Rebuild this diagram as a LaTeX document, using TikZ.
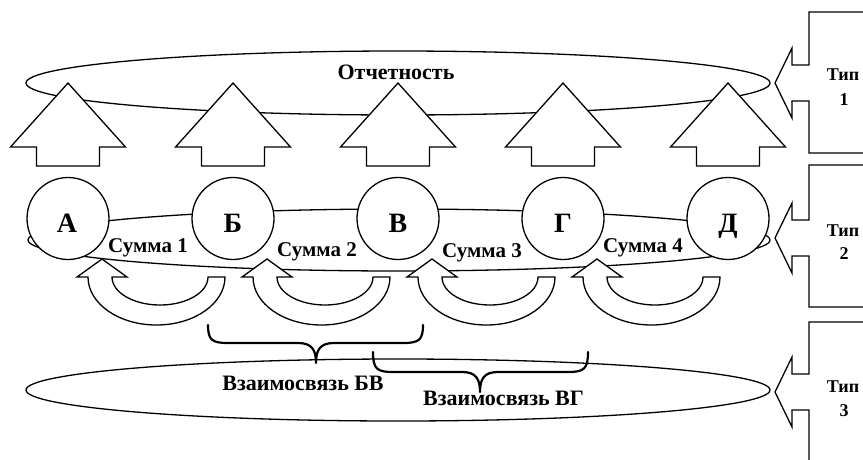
\documentclass[tikz,border=0pt]{standalone}
\usepackage{fontspec}
\setmainfont{Liberation Serif}
\usetikzlibrary{shapes.geometric}
\begin{document}
\begin{tikzpicture}[x=1pt,y=-1pt,line width=1.3pt,line join=miter,
  oval/.style={draw,ellipse,inner sep=0pt},
  uparrow/.style={draw,fill=white},
  ball/.style={circle,draw,fill=white,minimum size=82pt,inner sep=0pt},
  letter/.style={font=\bfseries\fontsize{28}{30}\selectfont,anchor=base},
  lbl/.style={font=\bfseries\fontsize{22}{24}\selectfont,anchor=base},
  sumlbl/.style={font=\bfseries\fontsize{21}{24}\selectfont,anchor=base},
  typ/.style={font=\bfseries\fontsize{18}{20}\selectfont,anchor=base},
  bracepath/.style={draw,line width=2.2pt,line cap=round,line join=round},
  turn/.style={draw,fill=white},
  callout/.style={draw,line join=miter}]
\useasboundingbox (0,0) rectangle (863,459);
\fill[white] (0,0) rectangle (863,459);
% ellipses
\node[oval,minimum width=744pt,minimum height=64pt] (rep) at (398,83) {};
\node[oval,minimum width=742pt,minimum height=62pt] (mid) at (399,240) {};
\node[oval,minimum width=744pt,minimum height=62pt] (low) at (398,390) {};
% up arrows
\foreach \c in {68,233,398,563,728}
  \draw[uparrow] (\c,83) -- (\c+57.5,147) -- (\c+31.5,147) -- (\c+31.5,166)
     -- (\c-31.5,166) -- (\c-31.5,147) -- (\c-57.5,147) -- cycle;
\node[lbl] (otch) at (396,79) {Отчетность};
% circles
\node[ball] (A) at (68,218.5) {};
\node[ball] (B) at (233,218.5) {};
\node[ball] (V) at (398,218.5) {};
\node[ball] (G) at (563,218.5) {};
\node[ball] (D) at (728,218.5) {};
\node[letter] (lA) at (67,232) {А};
\node[letter] (lB) at (233,232) {Б};
\node[letter] (lV) at (398,232) {В};
\node[letter] (lG) at (563,232) {Г};
\node[letter] (lD) at (728,232) {Д};
% U-turn arrows
\foreach \d in {0,165,330,495}
  \draw[turn] (102+\d,259) -- (127+\d,277) -- (112+\d,277)
     arc[start angle=180,end angle=0,x radius=48,y radius=28]
     -- (225+\d,277)
     arc[start angle=0,end angle=180,x radius=68.5,y radius=48]
     -- (77+\d,277) -- cycle;
\node[sumlbl] (s1) at (148,252) {Сумма 1};
\node[sumlbl] (s2) at (317,256) {Сумма 2};
\node[sumlbl] (s3) at (482,257) {Сумма 3};
\node[sumlbl] (s4) at (643,252) {Сумма 4};
% braces
\draw[bracepath] (208,325) .. controls (208,340) and (212,343) .. (228,343)
   -- (298,343) .. controls (312,343) and (316,350) .. (316,363)
   .. controls (316,350) and (320,343) .. (334,343) -- (403,343)
   .. controls (419,343) and (423,340) .. (423,325);
\draw[bracepath] (373,352) .. controls (373,369) and (377,372) .. (393,372)
   -- (462,372) .. controls (476,372) and (480,379) .. (480,392)
   .. controls (480,379) and (484,372) .. (498,372) -- (568,372)
   .. controls (584,372) and (588,369) .. (588,352);
\node[lbl] (w1) at (303,390) {Взаимосвязь БВ};
\node[lbl] (w2) at (503.5,405) {Взаимосвязь ВГ};
% callouts
\foreach \t/\tp/\bt in {83/12/153,238/165/307,392/322/470}
  \draw[callout] (870,\tp) -- (809,\tp) -- (809,\t-18) -- (792,\t-18) -- (792,\t-35)
     -- (775,\t) -- (792,\t+35) -- (792,\t+18) -- (809,\t+18) -- (809,\bt) -- (870,\bt);
\node[typ] (t1) at (843,80) {Тип};
\node[typ] (n1) at (844,105) {1};
\node[typ] (t2) at (843,236) {Тип};
\node[typ] (n2) at (844,259) {2};
\node[typ] (t3) at (843,392) {Тип};
\node[typ] (n3) at (844,416) {3};
\end{tikzpicture}
\end{document}
